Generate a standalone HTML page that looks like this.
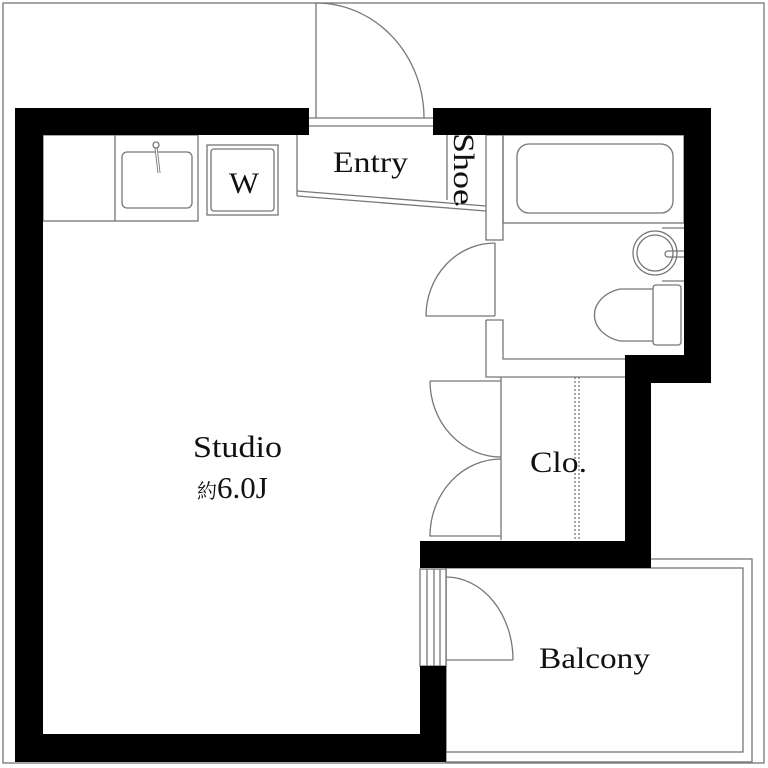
<!DOCTYPE html>
<html><head><meta charset="utf-8"><style>
html,body{margin:0;padding:0;background:#fff}
svg{display:block}
text{font-family:"Liberation Serif","Noto Serif CJK SC",serif;fill:#111}
</style></head><body>
<svg width="768" height="768" viewBox="0 0 768 768" xmlns="http://www.w3.org/2000/svg">
<g fill="none" stroke="#777" stroke-width="1.3">
<rect x="3" y="3" width="761" height="760"/>
<line x1="316" y1="3" x2="316" y2="118"/>
<path d="M316,3 A108,115 0 0 1 424,118"/>
<line x1="309" y1="118" x2="433" y2="118"/>
<line x1="309" y1="126" x2="433" y2="126"/>
<rect x="43" y="135" width="155" height="86"/>
<line x1="115" y1="135" x2="115" y2="221"/>
<rect x="122" y="152" width="70" height="56" rx="5"/>
<line x1="156" y1="147" x2="159" y2="173" stroke-width="3"/>
<line x1="156" y1="147" x2="159" y2="173" stroke="#fff" stroke-width="1.2"/>
<circle cx="156" cy="145" r="3" fill="#fff"/>
<rect x="207" y="145" width="71" height="70"/>
<rect x="211" y="149" width="63" height="62" rx="3"/>
<line x1="297" y1="135" x2="297" y2="191"/>
<line x1="297" y1="191" x2="486" y2="206"/>
<line x1="297" y1="196" x2="486" y2="211"/>
<line x1="297" y1="191" x2="297" y2="196"/>
<line x1="447" y1="135" x2="447" y2="200"/>
<rect x="486" y="135" width="17" height="105"/>
<rect x="503" y="135" width="181" height="88"/>
<rect x="517" y="144" width="156" height="69" rx="12"/>
<circle cx="655" cy="253" r="22"/>
<circle cx="655" cy="253" r="18"/>
<path d="M684,251 H668 a3,3 0 0 0 0,6 H684"/>
<path d="M684,228 H662 M684,281 H662"/>
<rect x="653" y="285" width="28" height="60" rx="3"/>
<path d="M653,289 H620 A35,27 0 0 0 620,341 H653"/>
<line x1="495" y1="243" x2="495" y2="316"/>
<path d="M495,243 A69,73 0 0 0 426,316 H495"/>
<path d="M486,320 H503 V359 H625 M486,320 V377 H625"/>
<line x1="501" y1="377" x2="501" y2="540"/>
<line x1="430" y1="381" x2="501" y2="381"/>
<path d="M430,381 A71,76 0 0 0 501,457"/>
<path d="M501,459 A71,77 0 0 0 430,536 H501"/>
<line x1="575" y1="377" x2="575" y2="540" stroke-dasharray="2,2"/>
<line x1="579" y1="377" x2="579" y2="540" stroke-dasharray="2,2"/>
<rect x="446" y="559" width="306" height="203"/>
<rect x="446" y="568" width="297" height="184"/>
<rect x="420" y="569" width="26" height="97" fill="#fff"/>
<line x1="427" y1="569" x2="427" y2="666"/>
<line x1="434" y1="569" x2="434" y2="666"/>
<line x1="440" y1="569" x2="440" y2="666"/>
<line x1="446" y1="660" x2="513" y2="660"/>
<path d="M446,577 A67,83 0 0 1 513,660"/>
</g>
<g fill="#000">
<rect x="15" y="108" width="294" height="27"/>
<rect x="15" y="108" width="28" height="654"/>
<rect x="15" y="734" width="431" height="28"/>
<rect x="420" y="666" width="26" height="96"/>
<rect x="420" y="541" width="231" height="27"/>
<rect x="625" y="355" width="26" height="213"/>
<rect x="625" y="355" width="86" height="28"/>
<rect x="684" y="108" width="27" height="275"/>
<rect x="433" y="108" width="278" height="27"/>
<circle cx="457" cy="204" r="1.5"/>
</g>
<text x="229" y="193" font-size="30" textLength="30" lengthAdjust="spacingAndGlyphs">W</text>
<text x="333" y="172" font-size="30" textLength="75" lengthAdjust="spacingAndGlyphs">Entry</text>
<text transform="translate(454,133) rotate(90)" font-size="30" textLength="72" lengthAdjust="spacingAndGlyphs">Shoe</text>
<text x="530" y="472" font-size="30" textLength="57" lengthAdjust="spacingAndGlyphs">Clo.</text>
<text x="539" y="668" font-size="30" textLength="111" lengthAdjust="spacingAndGlyphs">Balcony</text>
<text x="193" y="457" font-size="31" textLength="89" lengthAdjust="spacingAndGlyphs">Studio</text>
<text x="197" y="498" font-size="31"><tspan font-size="20">約</tspan>6.0J</text>
</svg>
</body></html>
